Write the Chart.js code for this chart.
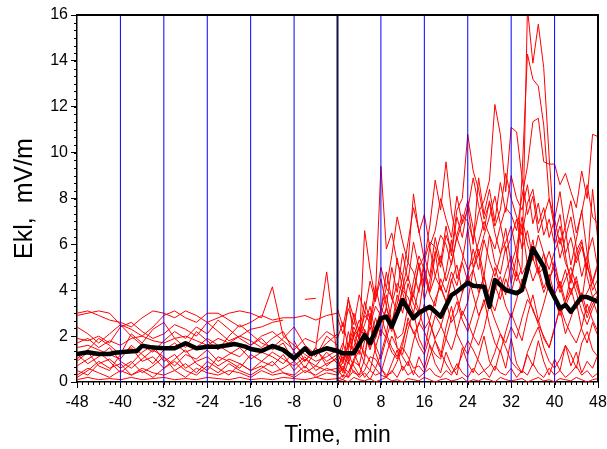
<!DOCTYPE html>
<html><head><meta charset="utf-8">
<script src="https://cdn.jsdelivr.net/npm/chart.js@4/dist/chart.umd.min.js"></script>
<style>html,body{margin:0;padding:0;background:#fff}canvas{display:block}</style>
</head><body>
<canvas id="c" width="607" height="449"></canvas>
<script>
// ---------- data ----------
const X_TICKS = [-48,-40,-32,-24,-16,-8,0,8,16,24,32,40,48];
const Y_TICKS = [0,2,4,6,8,10,12,14,16];
const GUIDE_LINES = [-40,-32,-24,-16,-8,0,8,16,24,32,40];

const MEAN_T = [-48,-46,-44,-42,-41,-39,-37,-36,-34,-32,-30,-28,-26,-24,-22,-20,-19,-17,-16,-14,-12,-10,-8,-6,-5,-2,0,1,3,5,6,8,9,10,12,14,15,17,19,21,22,24,25,27,28,29,31,33,34,36,38,39,41,42,43,45,46,48];
const MEAN_V = [1.22,1.30,1.22,1.22,1.28,1.32,1.35,1.58,1.50,1.47,1.47,1.69,1.47,1.54,1.54,1.61,1.66,1.54,1.44,1.35,1.57,1.40,1.03,1.47,1.22,1.47,1.35,1.25,1.25,2.05,1.69,2.78,2.85,2.41,3.57,2.78,3.02,3.28,2.85,3.79,3.94,4.33,4.20,4.15,3.28,4.45,4.01,3.87,4.01,5.83,5.03,4.15,3.21,3.36,3.06,3.72,3.70,3.50];

const T_PRE = [-48,-46,-44,-42,-40,-38,-36,-34,-32,-30,-28,-26,-24,-22,-20,-18,-16,-14,-12,-10,-8,-6,-4,-2,0];
const PRE_1 = [3.0,3.1,2.9,2.7,2.6,2.4,2.8,3.1,3.0,2.8,3.1,2.9,2.6,2.8,3.0,3.1,3.0,2.8,4.15,2.0,1.6,1.2,0.9,1.1,1.4];
const PRE_2 = [2.9,3.0,3.1,3.0,2.5,2.3,2.0,2.4,2.9,3.1,2.8,2.6,3.0,3.0,2.7,2.4,2.6,2.9,2.7,2.8,2.8,2.9,2.7,2.9,3.0];
const PRE_3 = [1.9,1.8,2.0,1.7,2.4,2.6,2.2,1.9,2.1,2.5,2.3,2.0,2.6,2.2,1.8,2.0,2.3,2.4,2.6,2.7,null,null,null,null,null];
const PRE_4 = [1.7,1.9,1.5,1.8,1.6,1.9,2.0,1.8,1.7,1.9,2.0,1.8,1.6,1.9,1.7,2.0,1.8,1.5,1.9,2.2,1.3,0.9,1.5,0.7,1.1];
const PRE_5 = [1.5,1.6,1.4,1.2,1.0,1.6,1.2,0.8,1.4,1.7,1.3,1.5,1.9,1.6,1.3,1.1,1.6,1.9,1.4,1.7,0.9,1.5,1.1,2.0,1.6];
const PRE_6 = [1.2,0.8,1.1,1.5,0.9,0.6,1.0,1.4,1.1,0.7,1.2,1.0,1.4,0.9,1.2,1.5,1.0,1.3,1.1,0.8,1.3,0.6,1.4,0.9,1.2];
const PRE_7 = [0.9,1.3,0.7,0.5,1.2,1.5,0.9,1.1,0.6,1.0,1.4,0.8,0.5,1.1,0.9,0.6,1.2,0.9,0.7,1.2,0.5,1.0,0.7,1.3,0.8];
const PRE_8 = [0.5,0.3,0.8,1.0,0.6,0.9,0.4,0.7,1.1,0.5,0.8,0.4,0.9,0.6,0.3,0.8,0.5,0.7,0.4,0.6,0.9,0.4,0.7,0.5,0.6];
const PRE_9 = [0.3,0.6,0.4,0.2,0.5,0.3,0.6,0.4,0.3,0.5,0.2,0.6,0.4,0.3,0.5,0.4,0.2,0.5,0.3,0.4,0.2,0.5,0.3,0.6,0.4];
const PRE_10 = [0.1,0.2,0.1,0.15,0.1,0.2,0.1,0.15,0.2,0.1,0.15,0.1,0.2,0.15,0.1,0.2,0.1,0.15,0.1,0.2,0.15,0.1,0.2,0.1,0.15];
const PRE_11 = [2.4,2.1,1.7,2.1,2.5,2.0,1.6,1.3,1.8,2.2,1.9,2.4,2.1,2.7,2.3,1.9,1.6,2.0,2.2,1.8,1.4,1.9,1.7,2.2,1.9];
const PRE_12 = [0.7,1.0,1.3,0.9,0.4,0.8,1.3,1.6,0.9,1.2,0.6,0.9,1.1,0.7,1.0,0.8,0.5,0.9,1.3,1.0,0.7,1.1,0.5,0.8,1.0];
const PRE_13 = [null,null,null,null,null,null,null,null,null,null,null,null,null,null,null,null,null,null,null,null,null,3.6,3.65,null,null];
const PRE_14 = [null,null,null,null,null,null,null,null,null,null,null,null,null,null,null,null,null,null,null,null,1.8,0.9,1.5,4.8,1.0];
const PRE_15 = [1.0,1.4,1.9,1.6,1.2,2.1,1.7,2.3,2.6,1.9,1.5,2.2,1.8,1.4,2.0,2.5,2.1,1.7,1.5,1.9,2.4,1.6,1.2,1.7,2.1];
const PRE_16 = [0.2,0.5,0.9,0.6,0.8,0.3,0.5,0.2,0.6,0.9,0.5,0.3,0.7,0.4,0.8,0.5,0.3,0.6,0.9,0.4,0.3,0.7,0.2,0.4,0.3];

const T_POST = [0,1,2,3,4,5,6,7,8,9,10,11,12,13,14,15,16,17,18,19,20,21,22,23,24,25,26,27,28,29,30,31,32,33,34,35,36,37,38,39,40,41,42,43,44,45,46,47,48];
const POST_1 = [0.3,0.6,0.2,0.9,1.4,0.8,0.5,1.5,2.3,1.9, 1.3,1.0,1.6,2.8,2.1,2.5,3.4,2.6,1.9,2.4, 3.2,4.5,3.7,2.9,3.5,4.9,5.6,4.1,3.3,4.0, 4.6,3.8,5.1,4.4,5.0,16.3,13.9,15.6,13.7,9.8, 6.4,7.3,5.5,4.3,5.7,6.2,4.6,3.7,4.0];
const POST_2 = [0.2,0.1,0.4,0.9,0.7,0.2,0.5,0.3,0.4,1.2, 2.0,1.5,1.1,0.7,1.8,2.6,2.2,1.6,1.2,1.0, 1.9,2.8,3.5,2.7,2.2,3.0,3.8,4.6,3.6,3.1, 4.0,4.8,5.5,4.6,9.0,14.3,13.2,12.9,11.2,8.0, 7.1,8.3,6.6,5.1,6.2,7.5,5.6,4.3,5.1];
const POST_3 = [0.6,1.1,0.8,1.5,2.4,2.0,1.4,2.3,3.2,2.8, 2.2,3.1,4.0,3.7,3.0,4.1,5.0,3.9,4.6,5.5, 4.4,5.2,6.3,5.6,4.9,5.3,6.1,7.0,6.4,5.8, 6.8,7.6,7.3,6.6,8.1,9.4,11.35,11.5,9.6,9.5, 9.5,8.6,9.1,8.3,7.6,9.2,8.0,10.8,10.7];
const POST_4 = [1.0,0.5,1.4,2.2,1.9,1.1,2.5,3.3,2.9,2.1, 3.4,4.3,3.9,3.0,4.4,5.5,4.9,4.0,5.5,6.4, 6.0,5.1,6.4,7.3,7.0,6.2,7.4,7.9,8.8,12.1, 10.8,8.3,11.1,10.9,8.9,7.3,8.1,6.5,7.2,8.0, 6.7,5.4,6.3,7.2,5.9,4.6,5.5,6.3,4.9];
const POST_5 = [0.4,0.9,1.7,1.3,2.0,2.9,2.6,1.9,3.2,4.1, 3.7,3.0,4.1,5.2,4.8,3.9,5.3,6.1,5.9,5.0, 6.4,5.7,7.5,8.0,10.8,9.2,8.4,7.1,7.8,6.5, 5.6,6.1,6.8,5.6,4.7,5.2,5.9,4.8,3.9,4.5, 5.0,4.2,3.3,3.9,4.4,3.6,2.8,3.4,3.8];
const POST_6 = [1.2,0.8,1.6,2.4,1.9,3.1,2.5,3.8,9.4,5.8, 6.5,5.2,4.6,6.1,7.6,6.6,5.3,6.8,8.8,7.5, 9.6,7.4,6.2,7.0,7.9,6.7,5.5,6.4,7.2,8.1, 6.9,5.7,6.3,7.1,5.8,6.6,5.4,4.7,5.0,5.7, 4.8,3.9,4.5,5.0,4.2,3.5,3.9,4.4,3.7];
const POST_7 = [0.5,1.3,0.9,2.1,1.6,6.6,4.9,3.6,4.5,3.3, 5.0,3.9,5.6,4.4,6.1,5.0,5.5,4.6,6.3,5.2, 6.8,5.5,7.2,6.3,7.7,6.0,8.9,7.3,8.4,7.0, 8.7,7.4,9.0,8.0,7.5,8.6,6.9,7.8,6.4,7.1, 6.0,6.8,5.6,6.3,5.2,5.9,4.9,8.4,6.1];
const POST_8 = [0.8,1.5,3.7,1.9,1.2,2.3,1.7,2.8,2.0,3.3, 2.5,3.8,3.0,4.3,3.4,3.0,4.7,3.8,3.3,4.5, 3.9,4.8,4.2,5.2,4.4,4.9,3.9,4.6,3.5,4.2, 3.6,4.5,3.9,4.8,4.0,5.3,4.4,5.0,4.1,4.7, 3.8,4.4,3.5,4.1,3.2,3.9,3.0,3.6,2.9];
const POST_9 = [0.3,0.7,0.4,1.0,1.6,1.3,0.9,0.6,1.2,2.1, 1.5,1.1,1.8,2.6,2.2,1.6,1.2,2.0,2.9,2.5, 1.9,1.4,2.2,3.1,2.6,2.0,1.6,2.3,3.4,2.7, 2.1,1.7,2.4,1.9,2.8,3.6,3.2,2.5,2.0,1.5, 2.3,3.3,2.6,2.1,1.7,2.4,3.4,2.7,2.2];
const POST_10 = [0.1,0.3,0.2,0.5,0.2,0.4,0.1,0.6,0.3,0.2, 0.5,0.2,0.7,0.3,0.5,0.2,0.4,0.6,0.3,0.2, 0.5,0.3,0.8,0.4,0.2,0.6,0.3,0.5,0.2,0.7, 0.4,0.3,0.6,0.2,0.5,0.3,0.8,0.4,0.2,0.6, 0.3,0.5,0.2,0.4,0.7,0.3,0.5,0.2,0.4];
const POST_11 = [1.5,0.9,2.2,1.3,0.7,1.8,2.4,1.6,1.0,1.9, 2.7,1.5,1.2,2.3,3.1,1.9,1.4,2.6,1.8,1.1, 2.4,3.3,2.1,1.6,1.2,2.0,2.8,3.6,2.5,1.7, 1.3,2.2,3.0,2.4,1.8,2.9,3.8,2.7,1.9,1.5, 2.4,3.2,2.1,2.8,3.5,2.3,1.7,2.6,2.0];
const POST_12 = [1.9,2.6,1.5,3.0,2.2,3.5,2.7,4.2,3.1,4.8, 3.6,5.4,4.0,4.6,3.7,5.2,4.1,5.9,4.6,4.1, 3.5,4.4,5.1,3.9,4.6,5.8,4.9,6.2,5.3,4.6, 5.5,6.7,5.1,5.9,7.2,6.0,5.3,6.4,5.6,4.9, 5.7,6.3,5.2,4.6,5.4,6.1,5.0,4.4,5.2];
const POST_13 = [0.6,0.2,0.9,0.4,0.3,0.5,1.1,1.0,0.6,0.3, 0.4,0.9,1.5,1.1,0.6,0.7,0.4,1.1,1.8,1.3, 0.8,0.4,0.6,1.2,1.8,1.4,0.9,0.5,0.7,1.3, 2.1,1.5,0.9,0.6,0.4,1.3,1.9,2.4,1.5,0.9, 0.6,1.0,1.6,1.2,0.6,1.7,2.2,1.4,1.1];
const POST_14 = [3.2,2.4,3.6,2.8,1.9,2.5,3.3,2.1,2.9,3.8, 2.6,3.4,4.6,3.1,3.9,5.1,3.6,4.4,5.7,4.0, 4.8,6.2,4.5,5.3,6.7,5.0,5.8,4.6,6.4,5.2, 4.7,5.9,4.3,5.5,6.9,5.1,6.2,4.8,5.6,4.4, 5.3,4.1,4.9,3.8,4.6,3.5,5.2,4.0,4.5];
const POST_15 = [0.05,0.1,0.0,0.2,0.1,0.05,0.15,0.0,0.1,0.2, 0.05,0.1,0.0,0.15,0.1,0.05,0.2,0.1,0.0,0.1, 0.15,0.05,0.1,0.2,0.0,0.1,0.05,0.15,0.1,0.0, 0.2,0.1,0.05,0.1,0.15,0.0,0.1,0.2,0.05,0.1, 0.0,0.15,0.1,0.05,0.2,0.1,0.0,0.1,0.15];
const POST_16 = [1.1,1.7,1.0,2.0,2.7,2.2,1.5,1.9,2.6,3.2, 2.5,1.9,2.1,3.3,3.8,3.1,2.3,2.7,3.6,4.2, 3.5,2.6,3.0,3.9,4.7,3.8,2.9,3.4,4.1,5.0, 4.2,3.3,2.8,3.6,4.5,3.9,3.1,2.6,3.4,4.3, 3.6,2.9,3.5,4.6,3.9,3.1,2.5,3.2,3.7];
const POST_17 = [2.8,2.1,3.2,2.5,3.8,3.0,4.4,3.5,5.0,4.1, 5.5,7.2,6.1,5.2,8.2,6.5,7.3,5.9,6.6,8.0, 7.1,6.3,8.1,6.9,7.5,8.9,7.7,6.6,7.9,6.8, 7.5,9.1,8.0,7.2,6.4,7.8,8.4,6.9,7.6,6.3, 7.1,6.0,6.8,7.9,6.5,7.4,8.6,7.2,6.9];
const POST_18 = [0.9,0.4,1.2,0.7,0.3,1.0,3.0,1.3,0.6,0.2, 0.8,1.4,0.5,0.9,0.3,1.1,0.6,1.6,0.8,0.4, 1.3,0.7,0.3,1.5,0.8,0.4,1.1,2.0,0.9,0.5, 1.4,0.6,1.9,0.8,0.4,1.2,0.7,1.8,0.9,0.3, 1.0,0.5,1.6,0.7,1.3,0.4,0.9,0.6,1.2];

const PRE_SERIES = [PRE_1,PRE_2,PRE_3,PRE_4,PRE_5,PRE_6,PRE_7,PRE_8,PRE_9,PRE_10,PRE_11,PRE_12,PRE_13,PRE_14,PRE_15,PRE_16];
const POST_SERIES = [POST_1,POST_2,POST_3,POST_4,POST_5,POST_6,POST_7,POST_8,POST_9,POST_10,POST_11,POST_12,POST_13,POST_14,POST_15,POST_16,POST_17,POST_18];

// ---------- build ----------
const pts = (t, v) => t.map((x, i) => ({x, y: v[i]}));
const red = (t, v) => ({data: pts(t, v), borderColor: '#ff0000', borderWidth: 1, pointRadius: 0, tension: 0, spanGaps: false, fill: false});

const datasets = [{
  data: pts(MEAN_T, MEAN_V), borderColor: '#000000', borderWidth: 4.5, pointRadius: 0, tension: 0,
  borderJoinStyle: 'round', borderCapStyle: 'round', fill: false
}];
PRE_SERIES.forEach(v => datasets.push(red(T_PRE, v)));
POST_SERIES.forEach(v => datasets.push(red(T_POST, v)));

const FONT = "'Liberation Sans', Arial, sans-serif";

const decor = {
  id: 'decor',
  beforeDatasetDraw(chart, args) {
    if (args.index !== 0) return;
    const {ctx, chartArea: a, scales: {x}} = chart;
    ctx.save();
    GUIDE_LINES.forEach(v => {
      const px = x.getPixelForValue(v);
      ctx.beginPath();
      if (v === 0) { ctx.strokeStyle = '#101040'; ctx.lineWidth = 2; }
      else { ctx.strokeStyle = '#0000ff'; ctx.lineWidth = 1; }
      ctx.moveTo(px, a.top); ctx.lineTo(px, a.bottom);
      ctx.stroke();
    });
    ctx.restore();
  },
  afterDraw(chart) {
    const {ctx, chartArea: a, scales: {x, y}} = chart;
    ctx.save();
    ctx.strokeStyle = '#000'; ctx.lineWidth = 1;
    ctx.beginPath();
    for (let v = x.min; v <= x.max; v += 1) {
      const px = Math.round(x.getPixelForValue(v)) + 0.5;
      ctx.moveTo(px, a.bottom); ctx.lineTo(px, a.bottom + 3);
    }
    for (let k = 0; k <= 48; k++) {
      const py = Math.round(y.getPixelForValue(k / 3)) + 0.5;
      ctx.moveTo(a.left, py); ctx.lineTo(a.left - 3, py);
    }
    ctx.stroke();
    ctx.lineWidth = 2;
    ctx.beginPath();
    ctx.moveTo(a.left, a.top); ctx.lineTo(a.right, a.top); ctx.lineTo(a.right, a.bottom);
    ctx.stroke();
    ctx.restore();
  }
};

new Chart(document.getElementById('c'), {
  type: 'line',
  data: {datasets},
  plugins: [decor],
  options: {
    responsive: false, animation: false, devicePixelRatio: 1,
    layout: {padding: {top: 15, right: 9, bottom: 0, left: 0}},
    plugins: {legend: {display: false}, tooltip: {enabled: false}},
    scales: {
      x: {
        type: 'linear', min: -48, max: 48,
        afterBuildTicks: s => { s.ticks = X_TICKS.map(value => ({value})); },
        afterFit: s => { s.height = 67; s.paddingLeft = 0; s.paddingRight = 0; },
        ticks: {color: '#000', font: {family: FONT, size: 16}, padding: 5, autoSkip: false, maxRotation: 0},
        grid: {drawOnChartArea: false, drawTicks: true, tickLength: 6, tickColor: '#000', tickWidth: 1},
        border: {display: true, color: '#000', width: 1.5},
        title: {display: true, text: 'Time,  min', color: '#000', font: {family: FONT, size: 23}, padding: {top: 0, bottom: 0}}
      },
      y: {
        type: 'linear', min: 0, max: 16,
        afterBuildTicks: s => { s.ticks = Y_TICKS.map(value => ({value})); },
        afterFit: s => { s.width = 77; s.paddingTop = 0; s.paddingBottom = 0; },
        ticks: {color: '#000', font: {family: FONT, size: 16}, padding: 3},
        grid: {drawOnChartArea: false, drawTicks: true, tickLength: 6, tickColor: '#000', tickWidth: 1},
        border: {display: true, color: '#000', width: 1.5},
        title: {display: true, text: 'Ekl,  mV/m', color: '#000', font: {family: FONT, size: 25}, padding: {top: 10, bottom: 0}}
      }
    }
  }
});
</script>
</body></html>
